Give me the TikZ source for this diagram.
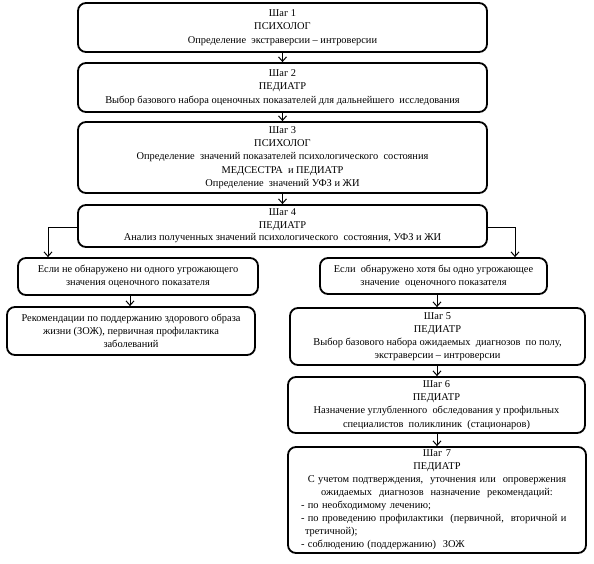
\documentclass[tikz,border=0pt]{standalone}
\usepackage{fontspec}
\setmainfont{Liberation Serif}
\usetikzlibrary{arrows.meta}
\begin{document}
\begin{tikzpicture}[x=1pt,y=-1pt,
  box/.style={draw,line width=1.8pt,rounded corners=8pt,align=center,inner sep=2pt,
    font=\fontsize{10.4}{13.2}\selectfont},
  conn/.style={line width=0.9pt,-{Straight Barb[length=4.5pt,width=8pt,line width=1pt]}}]
\useasboundingbox (0,0) rectangle (594,563);
\node[box,minimum width=409pt,minimum height=49pt] (b1) at (282.5,27.5)
  {Шаг 1\\ ПСИХОЛОГ\\ Определение\ \ экстраверсии – интроверсии};
\node[box,minimum width=409pt,minimum height=49pt] (b2) at (282.5,87.5)
  {Шаг 2\\ ПЕДИАТР\\ Выбор базового набора оценочных показателей для дальнейшего\ \ исследования};
\node[box,minimum width=409pt,minimum height=71pt] (b3) at (282.5,157.5)
  {Шаг 3\\ ПСИХОЛОГ\\ Определение\ \ значений показателей психологического\ \ состояния\\ МЕДСЕСТРА\ \ и ПЕДИАТР\\ Определение\ \ значений УФЗ и ЖИ};
\node[box,minimum width=409pt,minimum height=42pt,inner ysep=0pt,font=\fontsize{10.4}{12.6}\selectfont] (b4) at (282.5,226)
  {Шаг 4\\ ПЕДИАТР\\ Анализ полученных значений психологического\ \ состояния, УФЗ и ЖИ};
\node[box,minimum width=240pt,minimum height=37pt] (a) at (138,276.5)
  {Если не обнаружено ни одного угрожающего\\ значения оценочного показателя};
\node[box,minimum width=248pt,minimum height=48pt] (b) at (131,331)
  {Рекомендации по поддержанию здорового образа\\ жизни (ЗОЖ), первичная профилактика\\ заболеваний};
\node[box,minimum width=227pt,minimum height=36pt] (c) at (433.5,276)
  {Если\ \ обнаружено хотя бы одно угрожающее\\ значение\ \ оценочного показателя};
\node[box,minimum width=295pt,minimum height=57pt] (b5) at (437.5,336.5)
  {Шаг 5\\ ПЕДИАТР\\ Выбор базового набора ожидаемых\ \ диагнозов\ \ по полу,\\ экстраверсии – интроверсии};
\node[box,minimum width=297pt,minimum height=56pt] (b6) at (436.5,405)
  {Шаг 6\\ ПЕДИАТР\\ Назначение углубленного\ \ обследования у профильных\\ специалистов\ \ поликлиник\ \ (стационаров)};
\node[box,minimum width=298pt,minimum height=106pt,text width=272pt,align=left,inner ysep=0pt,
  font=\fontsize{10.4}{13}\selectfont] (b7) at (437,500)
  {{\centering Шаг 7\\ ПЕДИАТР\\ С учетом подтверждения,\ \ уточнения или\ \ опровержения\\ ожидаемых\ \ диагнозов\ \ назначение\ \ рекомендаций:\par}
  - по необходимому лечению;\\
  - по проведению профилактики\ \ (первичной,\ \ вторичной и\\
  \hspace*{4pt}третичной);\\
  - соблюдению (поддержанию)\ \ ЗОЖ};
\coordinate (lc) at (48,227);
\coordinate (rc) at (515,227);
\draw[conn] (b1) -- (b2);
\draw[conn] (b2) -- (b3);
\draw[conn] (b3) -- (b4);
\draw[conn] (b4.west |- lc) -- (lc) -- (lc |- a.north);
\draw[conn] (b4.east |- rc) -- (rc) -- (rc |- c.north);
\draw[conn] (a.south -| 130,0) -- (b.north -| 130,0);
\draw[conn] (c.south -| 437,0) -- (b5.north -| 437,0);
\draw[conn] (b5.south -| 437,0) -- (b6.north -| 437,0);
\draw[conn] (b6.south -| 437,0) -- (b7.north -| 437,0);
\end{tikzpicture}
\end{document}
